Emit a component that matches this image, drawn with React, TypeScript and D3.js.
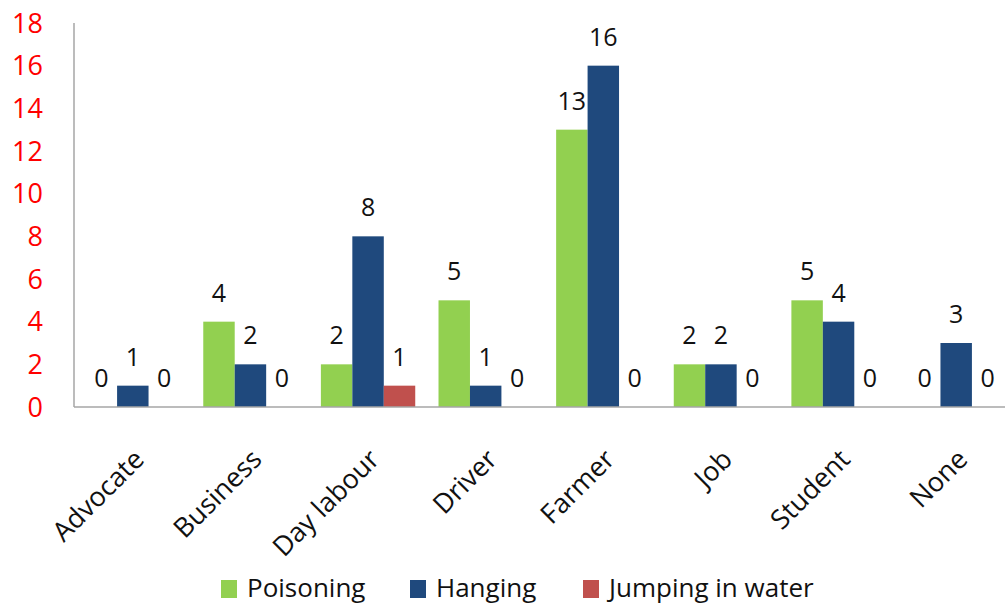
import React from "react";
import * as d3 from "d3";

const categories = ["Advocate", "Business", "Day labour", "Driver", "Farmer", "Job", "Student", "None"];
const seriesNames = ["Poisoning", "Hanging", "Jumping in water"];
const poisoning = [0, 4, 2, 5, 13, 2, 5, 0];
const hanging = [1, 2, 8, 1, 16, 2, 4, 3];
const jumping = [0, 0, 1, 0, 0, 0, 0, 0];
const yTicks = [0, 2, 4, 6, 8, 10, 12, 14, 16, 18];
const colors = ["#92D050", "#1F497D", "#C0504D"];

const W = 1005;
const H = 607;
const FONT = "'Open Sans', 'DejaVu Sans', sans-serif";

export default function App() {
  const series = [poisoning, hanging, jumping];
  const x = d3.scaleBand<string>().domain(categories).range([74, 1015]).paddingInner(0).paddingOuter(0);
  const inner = d3.scaleBand<string>().domain(seriesNames).range([0, x.bandwidth()]).paddingInner(0).paddingOuter(0.37);
  const y = d3.scaleLinear().domain([0, 18]).range([407, 23]);

  const legendX = [221, 410, 583];

  return (
    <svg width={W} height={H} style={{ position: "absolute", left: 0, top: 0, background: "#fff" }}>
      <rect x={0} y={0} width={W} height={H} fill="#fff" />
      {yTicks.map((t) => (
        <text key={t} x={43} y={y(t)} dy="0.36em" textAnchor="end" fill="#FF0000" fontSize={27} fontFamily={FONT}>
          {t}
        </text>
      ))}
      {categories.map((c, i) => (
        <g key={c} transform={`translate(${x(c)},0)`}>
          {series.map((s, j) => (
            <rect
              key={j}
              x={inner(seriesNames[j])}
              y={y(s[i])}
              width={inner.bandwidth()}
              height={y(0) - y(s[i])}
              fill={colors[j]}
            />
          ))}
          {series.map((s, j) => (
            <text
              key={"l" + j}
              x={(inner(seriesNames[j]) as number) + inner.bandwidth() / 2}
              y={y(s[i]) - 20}
              textAnchor="middle"
              fill="#111"
              fontSize={25}
              fontFamily={FONT}
            >
              {s[i]}
            </text>
          ))}
        </g>
      ))}
      <line x1={74} x2={74} y1={23} y2={407} stroke="#A6A6A6" strokeWidth={1.5} />
      <line x1={74} x2={W} y1={407} y2={407} stroke="#A6A6A6" strokeWidth={1.5} />
      {categories.map((c) => (
        <text
          key={"x" + c}
          transform={`translate(${(x(c) as number) + x.bandwidth() / 2 + 13},${461}) rotate(-45)`}
          textAnchor="end"
          fill="#111"
          fontSize={27}
          fontFamily={FONT}
        >
          {c}
        </text>
      ))}
      {seriesNames.map((n, j) => (
        <g key={n}>
          <rect x={legendX[j]} y={580} width={16} height={18} fill={colors[j]} />
          <text x={legendX[j] + 26} y={597} fill="#111" fontSize={26} fontFamily={FONT}>
            {n}
          </text>
        </g>
      ))}
    </svg>
  );
}
